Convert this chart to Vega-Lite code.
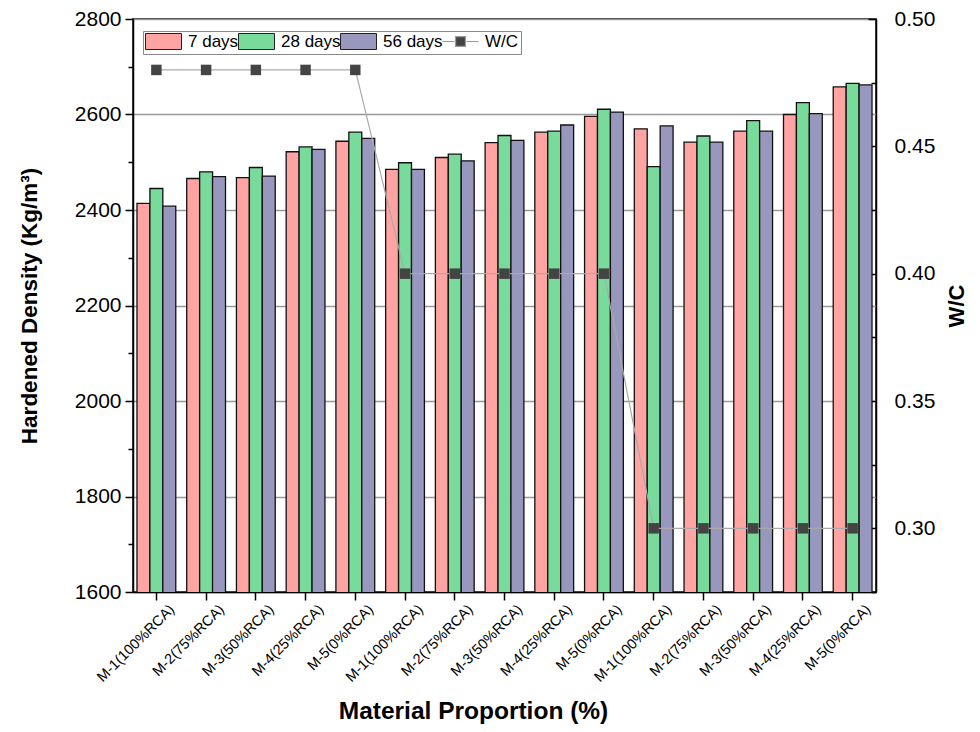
{
  "$schema": "https://vega.github.io/schema/vega-lite/v6.json",
  "width": 743,
  "height": 573,
  "autosize": {"type": "none"},
  "padding": {"left": 133, "top": 19, "right": 104, "bottom": 140},
  "config": {
    "font": "Liberation Sans",
    "view": {"stroke": "#000", "strokeWidth": 1.5},
    "axis": {"domainColor": "#000", "domainWidth": 1.5, "tickColor": "#000", "tickWidth": 1.5, "labelColor": "#000", "titleColor": "#000", "labelFont": "Liberation Sans", "titleFont": "Liberation Sans"}
  },
  "datasets": {
    "bars": [
      {"mix": "M-1(100%RCA)|1", "series": "7 days", "density": 2414},
      {"mix": "M-1(100%RCA)|1", "series": "28 days", "density": 2445},
      {"mix": "M-1(100%RCA)|1", "series": "56 days", "density": 2408},
      {"mix": "M-2(75%RCA)|1", "series": "7 days", "density": 2466},
      {"mix": "M-2(75%RCA)|1", "series": "28 days", "density": 2480},
      {"mix": "M-2(75%RCA)|1", "series": "56 days", "density": 2470},
      {"mix": "M-3(50%RCA)|1", "series": "7 days", "density": 2468},
      {"mix": "M-3(50%RCA)|1", "series": "28 days", "density": 2489},
      {"mix": "M-3(50%RCA)|1", "series": "56 days", "density": 2471},
      {"mix": "M-4(25%RCA)|1", "series": "7 days", "density": 2522},
      {"mix": "M-4(25%RCA)|1", "series": "28 days", "density": 2532},
      {"mix": "M-4(25%RCA)|1", "series": "56 days", "density": 2527},
      {"mix": "M-5(0%RCA)|1", "series": "7 days", "density": 2544},
      {"mix": "M-5(0%RCA)|1", "series": "28 days", "density": 2563},
      {"mix": "M-5(0%RCA)|1", "series": "56 days", "density": 2550},
      {"mix": "M-1(100%RCA)|2", "series": "7 days", "density": 2485},
      {"mix": "M-1(100%RCA)|2", "series": "28 days", "density": 2499},
      {"mix": "M-1(100%RCA)|2", "series": "56 days", "density": 2485},
      {"mix": "M-2(75%RCA)|2", "series": "7 days", "density": 2510},
      {"mix": "M-2(75%RCA)|2", "series": "28 days", "density": 2517},
      {"mix": "M-2(75%RCA)|2", "series": "56 days", "density": 2503},
      {"mix": "M-3(50%RCA)|2", "series": "7 days", "density": 2541},
      {"mix": "M-3(50%RCA)|2", "series": "28 days", "density": 2556},
      {"mix": "M-3(50%RCA)|2", "series": "56 days", "density": 2546},
      {"mix": "M-4(25%RCA)|2", "series": "7 days", "density": 2563},
      {"mix": "M-4(25%RCA)|2", "series": "28 days", "density": 2565},
      {"mix": "M-4(25%RCA)|2", "series": "56 days", "density": 2578},
      {"mix": "M-5(0%RCA)|2", "series": "7 days", "density": 2596},
      {"mix": "M-5(0%RCA)|2", "series": "28 days", "density": 2611},
      {"mix": "M-5(0%RCA)|2", "series": "56 days", "density": 2605},
      {"mix": "M-1(100%RCA)|3", "series": "7 days", "density": 2570},
      {"mix": "M-1(100%RCA)|3", "series": "28 days", "density": 2491},
      {"mix": "M-1(100%RCA)|3", "series": "56 days", "density": 2576},
      {"mix": "M-2(75%RCA)|3", "series": "7 days", "density": 2542},
      {"mix": "M-2(75%RCA)|3", "series": "28 days", "density": 2555},
      {"mix": "M-2(75%RCA)|3", "series": "56 days", "density": 2542},
      {"mix": "M-3(50%RCA)|3", "series": "7 days", "density": 2565},
      {"mix": "M-3(50%RCA)|3", "series": "28 days", "density": 2587},
      {"mix": "M-3(50%RCA)|3", "series": "56 days", "density": 2565},
      {"mix": "M-4(25%RCA)|3", "series": "7 days", "density": 2600},
      {"mix": "M-4(25%RCA)|3", "series": "28 days", "density": 2625},
      {"mix": "M-4(25%RCA)|3", "series": "56 days", "density": 2602},
      {"mix": "M-5(0%RCA)|3", "series": "7 days", "density": 2658},
      {"mix": "M-5(0%RCA)|3", "series": "28 days", "density": 2665},
      {"mix": "M-5(0%RCA)|3", "series": "56 days", "density": 2662}
    ],
    "wc": [
      {"mix": "M-1(100%RCA)|1", "wc": 0.48},
      {"mix": "M-2(75%RCA)|1", "wc": 0.48},
      {"mix": "M-3(50%RCA)|1", "wc": 0.48},
      {"mix": "M-4(25%RCA)|1", "wc": 0.48},
      {"mix": "M-5(0%RCA)|1", "wc": 0.48},
      {"mix": "M-1(100%RCA)|2", "wc": 0.40},
      {"mix": "M-2(75%RCA)|2", "wc": 0.40},
      {"mix": "M-3(50%RCA)|2", "wc": 0.40},
      {"mix": "M-4(25%RCA)|2", "wc": 0.40},
      {"mix": "M-5(0%RCA)|2", "wc": 0.40},
      {"mix": "M-1(100%RCA)|3", "wc": 0.30},
      {"mix": "M-2(75%RCA)|3", "wc": 0.30},
      {"mix": "M-3(50%RCA)|3", "wc": 0.30},
      {"mix": "M-4(25%RCA)|3", "wc": 0.30},
      {"mix": "M-5(0%RCA)|3", "wc": 0.30}
    ]
  },
  "layer": [
    {
      "data": {"name": "bars"},
      "mark": {"type": "bar", "stroke": "#111", "strokeWidth": 1.3, "clip": true},
      "encoding": {
        "x": {
          "field": "mix", "type": "nominal", "sort": null,
          "scale": {"domain": ["M-1(100%RCA)|1","M-2(75%RCA)|1","M-3(50%RCA)|1","M-4(25%RCA)|1","M-5(0%RCA)|1","M-1(100%RCA)|2","M-2(75%RCA)|2","M-3(50%RCA)|2","M-4(25%RCA)|2","M-5(0%RCA)|2","M-1(100%RCA)|3","M-2(75%RCA)|3","M-3(50%RCA)|3","M-4(25%RCA)|3","M-5(0%RCA)|3"], "paddingInner": 0.22, "paddingOuter": 0.08},
          "axis": {"title": "Material Proportion (%)", "titleFontSize": 24.5, "titleFontWeight": "bold", "titlePadding": 16, "titleX": 340, "labelAngle": -45, "labelFontSize": 14.5, "labelExpr": "split(datum.value,'|')[0]", "tickSize": 8, "labelPadding": 2, "labelOffset": 11}
        },
        "xOffset": {"field": "series", "type": "nominal", "scale": {"domain": ["7 days", "28 days", "56 days"], "paddingInner": 0}},
        "y": {
          "field": "density", "type": "quantitative",
          "scale": {"domain": [1600, 2800], "nice": false, "zero": false},
          "axis": {
            "title": "Hardened Density (Kg/m³)", "titleFontSize": 22.5, "titleFontWeight": "bold", "titlePadding": 33,
            "values": [1600,1700,1800,1900,2000,2100,2200,2300,2400,2500,2600,2700,2800],
            "labelExpr": "datum.value % 200 === 0 ? datum.label : ''",
            "format": "d",
            "labelFontSize": 21, "labelPadding": 4,
            "tickSize": {"condition": {"test": "datum.value % 200 === 0", "value": 8}, "value": 5},
            "grid": true, "gridColor": "#999", "gridWidth": 1.5,
            "gridOpacity": {"condition": {"test": "datum.value % 200 === 0", "value": 1}, "value": 0}
          }
        },
        "color": {
          "field": "series", "type": "nominal",
          "scale": {"domain": ["7 days", "28 days", "56 days", "W/C"], "range": ["#FFA3A3", "#78DB9B", "#9898BF", "#444444"]},
          "legend": {"orient": "none", "legendX": 10, "legendY": 12, "direction": "horizontal", "title": null, "gridAlign": "none",
            "symbolType": "M-2.25,-1H2.25V1H-2.25Z", "symbolSize": 256, "symbolOffset": 10,
            "symbolStrokeColor": "#222", "symbolStrokeWidth": 1, "symbolOpacity": 1,
            "labelFontSize": 17, "labelOffset": 16, "columnPadding": -3, "strokeColor": "#888", "padding": 2, "fillColor": "white", "labelColor": "#000",
            "encode": {"symbols": {"update": {
              "shape": {"signal": "datum.value === 'W/C' ? 'M-2.25,0H-0.75M0.75,0H2.25M-0.62,-0.62H0.62V0.62H-0.62Z' : 'M-2.25,-1H2.25V1H-2.25Z'"},
              "stroke": {"signal": "datum.value === 'W/C' ? '#999' : '#222'"},
              "strokeWidth": {"signal": "datum.value === 'W/C' ? 1.2 : 1"}
            }}}}
        }
      }
    },
    {
      "data": {"name": "wc"},
      "layer": [
        {
          "mark": {"type": "line", "color": "#aaa", "strokeWidth": 1.2},
          "encoding": {
            "x": {"field": "mix", "type": "nominal", "sort": null,
              "scale": {"domain": ["M-1(100%RCA)|1","M-2(75%RCA)|1","M-3(50%RCA)|1","M-4(25%RCA)|1","M-5(0%RCA)|1","M-1(100%RCA)|2","M-2(75%RCA)|2","M-3(50%RCA)|2","M-4(25%RCA)|2","M-5(0%RCA)|2","M-1(100%RCA)|3","M-2(75%RCA)|3","M-3(50%RCA)|3","M-4(25%RCA)|3","M-5(0%RCA)|3"], "paddingInner": 0.22, "paddingOuter": 0.08}},
            "y": {
              "field": "wc", "type": "quantitative",
              "scale": {"domain": [0.275, 0.5], "nice": false, "zero": false},
              "axis": {
                "orient": "right", "title": "W/C", "titleFontSize": 22, "titleFontWeight": "bold", "titleAngle": -90, "titlePadding": 34,
                "values": [0.275,0.3,0.325,0.35,0.375,0.4,0.425,0.45,0.475,0.5],
                "labelExpr": "abs(datum.value*20 - round(datum.value*20)) < 0.001 ? format(datum.value, '.2f') : ''",
                "labelFontSize": 21, "labelPadding": 26,
                "tickSize": {"condition": {"test": "abs(datum.value*20 - round(datum.value*20)) < 0.001", "value": -8}, "value": -5},
                "grid": false
              }
            }
          }
        },
        {
          "mark": {"type": "square", "color": "#444", "size": 110, "opacity": 1, "filled": true},
          "encoding": {
            "x": {"field": "mix", "type": "nominal", "sort": null},
            "y": {"field": "wc", "type": "quantitative"}
          }
        }
      ]
    }
  ],
  "resolve": {"scale": {"y": "independent"}}
}
